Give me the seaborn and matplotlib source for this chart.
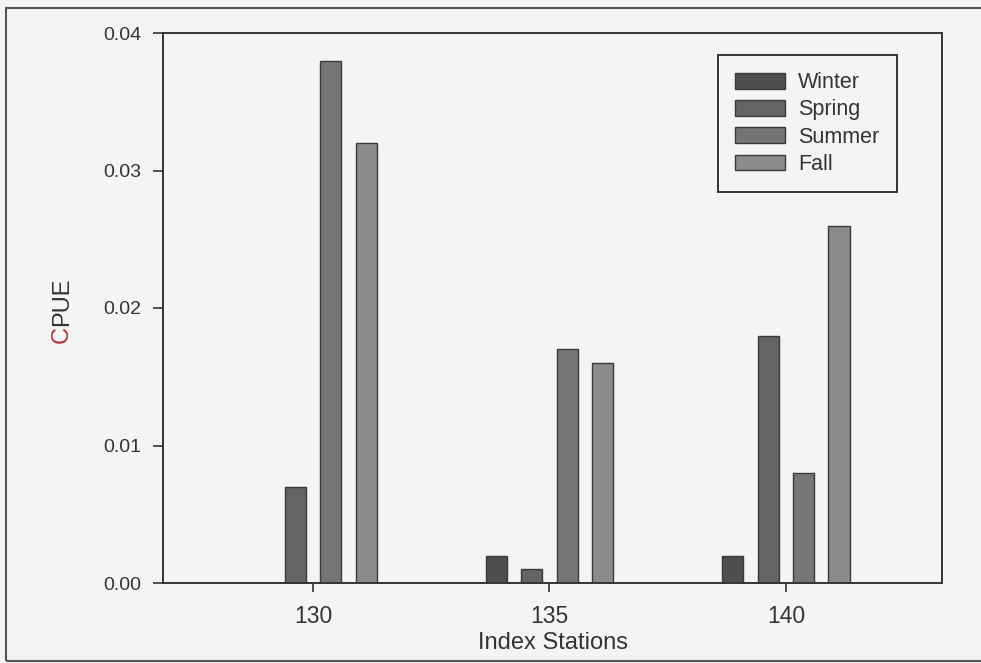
import matplotlib
matplotlib.use("Agg")
import matplotlib.pyplot as plt
import seaborn as sns
import pandas as pd
from matplotlib.patches import Rectangle

stations = ["130", "135", "140"]
seasons = ["Winter", "Spring", "Summer", "Fall"]
winter = [0.0, 0.002, 0.002]
spring = [0.007, 0.001, 0.018]
summer = [0.038, 0.017, 0.008]
fall = [0.032, 0.016, 0.026]
yticks = [0.00, 0.01, 0.02, 0.03, 0.04]
ytick_labels = ["0.00", "0.01", "0.02", "0.03", "0.04"]

season_colors = ["#4e4e4e", "#646464", "#757575", "#8b8b8b"]

rows = []
for season, vals in zip(seasons, [winter, spring, summer, fall]):
    for st, v in zip(stations, vals):
        rows.append({"station": st, "season": season, "cpue": v})
df = pd.DataFrame(rows)

sns.set_theme(style="white")
plt.rcParams["font.family"] = ["Liberation Sans", "DejaVu Sans"]

bg = "#f3f4f3"
ink = "#333333"
W, H = 981, 663
fig = plt.figure(figsize=(W / 100, H / 100), dpi=100, facecolor=bg)
ax = fig.add_axes([163 / W, 1 - 583 / H, (942 - 163) / W, (583 - 33) / H])
ax.set_facecolor(bg)

sns.barplot(data=df, x="station", y="cpue", hue="season", hue_order=seasons,
            order=stations, palette=season_colors, width=0.6, gap=0.4,
            edgecolor="#3a3a3a", linewidth=1.0, errorbar=None, ax=ax)

ax.set_ylim(0, 0.04)
ax.set_xlim(-0.634, 2.66)
ax.set_yticks(yticks)
ax.set_yticklabels(ytick_labels)

for sp in ax.spines.values():
    sp.set_visible(True)
    sp.set_color(ink)
    sp.set_linewidth(1.4)

ax.tick_params(axis="y", direction="out", length=7.5, width=1.2, pad=8,
               labelsize=14, colors=ink, left=True)
ax.tick_params(axis="x", direction="out", length=6.5, width=1.2, pad=9,
               labelsize=16.5, colors=ink, bottom=True)

ax.set_xlabel("Index Stations", fontsize=17, color=ink, labelpad=3)
ax.set_ylabel("")

# y label with red "C"
tC = fig.text(62 / W, 1 - 343 / H, "C", rotation=90, fontsize=17,
              color="#b03040", ha="center", va="bottom")
fig.canvas.draw()
bb = tC.get_window_extent(renderer=fig.canvas.get_renderer())
fig.text(62 / W, bb.y1 / H, "PUE", rotation=90, fontsize=17,
         color=ink, ha="center", va="bottom")

leg = ax.legend(loc="upper left", bbox_to_anchor=(718 / W, 1 - 55 / H),
                bbox_transform=fig.transFigure, borderaxespad=0,
                fontsize=15.5, frameon=True, fancybox=False, shadow=False,
                handlelength=2.33, handleheight=0.74, handletextpad=0.6,
                labelspacing=0.29, borderpad=0.8, title=None)
leg.get_frame().set_edgecolor(ink)
leg.get_frame().set_linewidth(1.4)
leg.get_frame().set_facecolor(bg)
leg.get_frame().set_alpha(1)
for t in leg.get_texts():
    t.set_color(ink)

# outer frame of the page
fig.patches.append(Rectangle((6 / W, 2 / H), 1.2, 1 - 10 / H,
                             transform=fig.transFigure, fill=False,
                             edgecolor="#555555", linewidth=1.5))

fig.savefig("out.png", dpi=100, facecolor=bg)
